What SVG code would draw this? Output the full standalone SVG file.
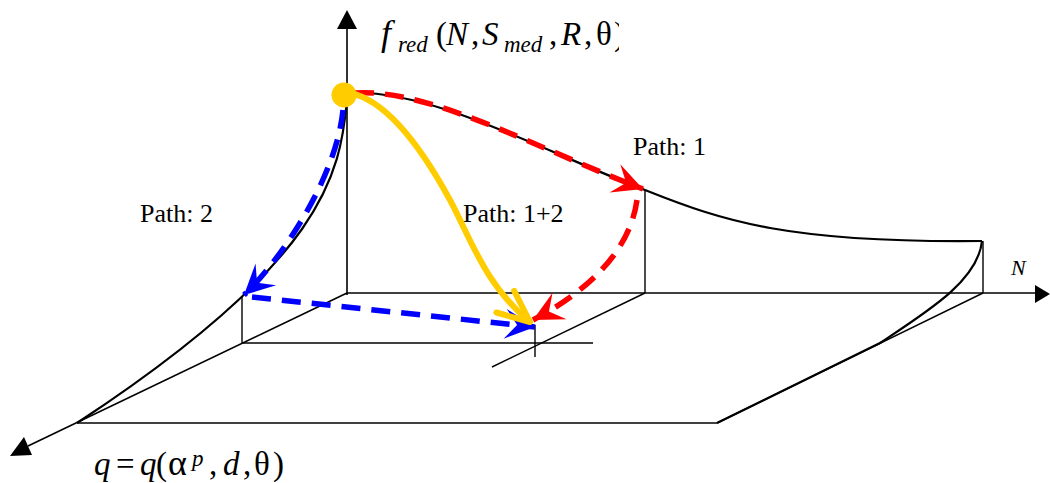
<svg xmlns="http://www.w3.org/2000/svg" width="1050" height="483" viewBox="0 0 1050 483">
  <style>
    .ax { stroke: #000; stroke-width: 1.6; fill: none; }
    .thin { stroke: #000; stroke-width: 1.4; fill: none; }
    .crv { stroke: #000; stroke-width: 2.2; fill: none; }
    .blue { stroke: #0000FF; stroke-width: 5.5; fill: none; stroke-dasharray: 19 11; }
    .red { stroke: #FF0000; stroke-width: 5.5; fill: none; stroke-dasharray: 19 11; }
    .yel { stroke: #FFCC00; stroke-width: 6; fill: none; }
    .lbl { font-family: "Liberation Serif", "Times New Roman", serif; fill: #000; }
    .it { font-style: italic; }
  </style>
  <defs>
    <marker id="mBlue" markerUnits="userSpaceOnUse" viewBox="-34 -20 38 40" refX="0" refY="0" markerWidth="38" markerHeight="40" orient="auto" overflow="visible">
      <path d="M0,0 L-30,-15 L-18,0 L-30,15 Z" fill="#0000FF"/>
    </marker>
    <marker id="mRed" markerUnits="userSpaceOnUse" viewBox="-34 -20 38 40" refX="0" refY="0" markerWidth="38" markerHeight="40" orient="auto" overflow="visible">
      <path d="M0,0 L-30,-15 L-18,0 L-30,15 Z" fill="#FF0000"/>
    </marker>
    <marker id="mYel" markerUnits="userSpaceOnUse" viewBox="-38 -20 42 40" refX="0" refY="0" markerWidth="42" markerHeight="40" orient="auto" overflow="visible">
      <path d="M-32,-14 L0,0 L-32,14" fill="none" stroke="#FFCC00" stroke-width="6" stroke-linecap="round" stroke-linejoin="round"/>
    </marker>
    <clipPath id="clipTop"><rect x="370" y="0" width="249" height="70"/></clipPath>
  </defs>

  <g id="axes">
    <line class="ax" x1="347" y1="295" x2="347" y2="27"/>
    <polygon points="347,10 337,29 357,29" fill="#000"/>
    <line class="ax" x1="347" y1="293" x2="1037" y2="293"/>
    <polygon points="1050,294 1035,285 1035,303" fill="#000"/>
    <line class="ax" x1="347" y1="293" x2="28" y2="446"/>
    <polygon points="10,456 24,437 32,455" fill="#000"/>
  </g>

  <g id="plane">
    <line class="thin" x1="77" y1="423" x2="717" y2="423"/>
    <line class="thin" x1="717" y1="423" x2="983" y2="293"/>
    <line class="thin" x1="242" y1="296" x2="242" y2="343"/>
    <line class="thin" x1="242" y1="343" x2="593" y2="343"/>
    <line class="thin" x1="492" y1="367" x2="645" y2="293"/>
    <line class="thin" x1="535" y1="325" x2="535" y2="357"/>
    <line class="thin" x1="645" y1="190" x2="645" y2="293"/>
    <line class="thin" x1="983" y1="241" x2="983" y2="293"/>
  </g>

  <g id="surface-curves">
    <path class="crv" d="M347,93 C430,88 540,150 645,190 C725,222 790,243 982,241"/>
    <path class="crv" d="M347,100 C340,175 325,260 77,423"/>
    <path class="crv" d="M982,241 C978,280 930,310 880,343 L717,423"/>
  </g>

  <g id="connectors">
    <path id="path2-a" class="blue" d="M343,110 C336,180 279,262 244,295" marker-end="url(#mBlue)"/>
    <path id="path2-b" class="blue" d="M252,297 L535,327" marker-end="url(#mBlue)"/>
    <path id="path1-a" class="red" d="M355,93 C430,88 540,150 643,189" marker-end="url(#mRed)"/>
    <path id="path1-b" class="red" d="M637,200 C630,250 590,290 533,320" marker-end="url(#mRed)"/>
    <path id="path12" class="yel" d="M350,93 C385,100 420,145 450,200 C470,237 485,285 530,322" marker-end="url(#mYel)"/>
  </g>

  <g id="start-point">
    <circle cx="344" cy="95" r="12.5" fill="#FFCC00"/>
  </g>

  <g id="labels">
    <g clip-path="url(#clipTop)">
      <text class="lbl" font-size="33">
        <tspan class="it" x="381" y="45" font-size="36">f</tspan><tspan class="it" x="398" y="52" font-size="23">red</tspan><tspan x="436" y="45">(</tspan><tspan class="it" x="446" y="45">N</tspan><tspan x="471" y="45">,</tspan><tspan class="it" x="482" y="45">S</tspan><tspan class="it" x="504" y="52" font-size="23">med</tspan><tspan x="549" y="45">,</tspan><tspan class="it" x="561" y="45">R</tspan><tspan x="584" y="45">,</tspan><tspan x="596" y="45">θ</tspan><tspan x="614" y="45">)</tspan>
      </text>
    </g>
    <text class="lbl" font-size="33">
      <tspan class="it" x="94" y="475">q</tspan><tspan x="116" y="475">=</tspan><tspan class="it" x="140" y="475">q</tspan><tspan x="156" y="475">(</tspan><tspan x="168" y="475" font-size="36">α</tspan><tspan class="it" x="192" y="466" font-size="23">p</tspan><tspan x="209" y="475">,</tspan><tspan class="it" x="223" y="475">d</tspan><tspan x="243" y="475">,</tspan><tspan x="254" y="475">θ</tspan><tspan x="273" y="475">)</tspan>
    </text>
    <text class="lbl it" x="1011" y="275" font-size="22">N</text>
    <text class="lbl" x="633" y="155" font-size="26">Path: 1</text>
    <text class="lbl" x="140" y="222" font-size="26">Path: 2</text>
    <text class="lbl" x="463" y="222" font-size="26">Path: 1+2</text>
  </g>
</svg>
